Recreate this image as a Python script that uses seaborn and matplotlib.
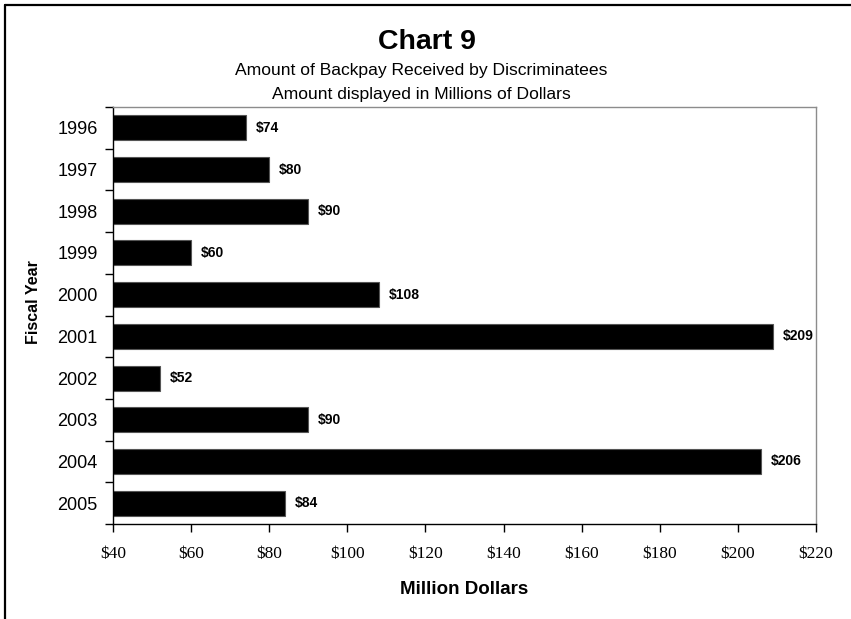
import matplotlib
matplotlib.use("Agg")
import matplotlib.pyplot as plt
from matplotlib.lines import Line2D
from matplotlib.ticker import FixedLocator
import seaborn as sns
import pandas as pd

# Backpay received per fiscal year, millions of dollars
years = ["1996", "1997", "1998", "1999", "2000", "2001", "2002", "2003", "2004", "2005"]
backpay = [74, 80, 90, 60, 108, 209, 52, 90, 206, 84]
x_ticks = [40, 60, 80, 100, 120, 140, 160, 180, 200, 220]

sns.set_theme(style="white")
plt.rcParams["font.family"] = ["Liberation Sans", "DejaVu Sans"]
plt.rcParams.update({"text.color": "black", "axes.labelcolor": "black",
                     "xtick.color": "black", "ytick.color": "black"})

df = pd.DataFrame({"year": years, "amount": backpay})

fig = plt.figure(figsize=(8.51, 6.19), dpi=100)
W, H = 851, 619
ax = fig.add_axes([113 / W, (H - 524) / H, (816 - 113) / W, (524 - 107) / H])

sns.barplot(data=df, x="amount", y="year", orient="h", color="black",
            width=0.6, edgecolor="#555555", linewidth=0.8, saturation=1,
            ax=ax)

ax.set_xlim(40, 220)
ax.set_ylim(len(years) - 0.5, -0.5)

ax.set_xticks(x_ticks)
ax.set_xticklabels([f"${v}" for v in x_ticks], family="Liberation Serif",
                   fontsize=12.5, color="black")
ax.tick_params(axis="x", direction="out", length=6, width=1, color="black",
               pad=10, bottom=True)

# category labels centred on bars, tick marks between categories
ax.set_yticks(range(len(years)))
ax.set_yticklabels(years, fontsize=13, color="black")
ax.tick_params(axis="y", which="major", length=0, pad=11)
ax.yaxis.set_minor_locator(FixedLocator([i - 0.5 for i in range(len(years) + 1)]))
ax.tick_params(axis="y", which="minor", direction="out", length=6, width=1,
               color="black", left=True)

for side in ("left", "bottom"):
    ax.spines[side].set_color("black")
    ax.spines[side].set_linewidth(1.0)
for side in ("top", "right"):
    ax.spines[side].set_color("#8c8c8c")
    ax.spines[side].set_linewidth(1.0)

ax.set_xlabel("")
ax.set_ylabel("")

for i, v in enumerate(backpay):
    ax.annotate(f"${v}", xy=(v, i), xytext=(7, 0), textcoords="offset points",
                ha="left", va="center", fontsize=10, fontweight="bold",
                color="black")

fig.text(464 / W, 1 - 590 / H, "Million Dollars", ha="center", va="center",
         fontsize=13.5, fontweight="bold")
fig.text(34 / W, 1 - 302 / H, "Fiscal Year", ha="center", va="center",
         rotation=90, fontsize=11.5, fontweight="bold")

fig.text(427 / W, 1 - 42 / H, "Chart 9", ha="center", va="center",
         fontsize=20.5, fontweight="bold")
fig.text(421 / W, 1 - 71 / H, "Amount of Backpay Received by Discriminatees",
         ha="center", va="center", fontsize=12.6)
fig.text(421 / W, 1 - 94 / H, "Amount displayed in Millions of Dollars",
         ha="center", va="center", fontsize=12.6)

# frame lines along the top and left of the figure
fig.add_artist(Line2D([5 / W, 1], [1 - 5 / H, 1 - 5 / H], transform=fig.transFigure,
                      color="black", linewidth=1.6))
fig.add_artist(Line2D([5 / W, 5 / W], [0, 1 - 5 / H], transform=fig.transFigure,
                      color="black", linewidth=1.6))

fig.savefig("out.png", dpi=100)
